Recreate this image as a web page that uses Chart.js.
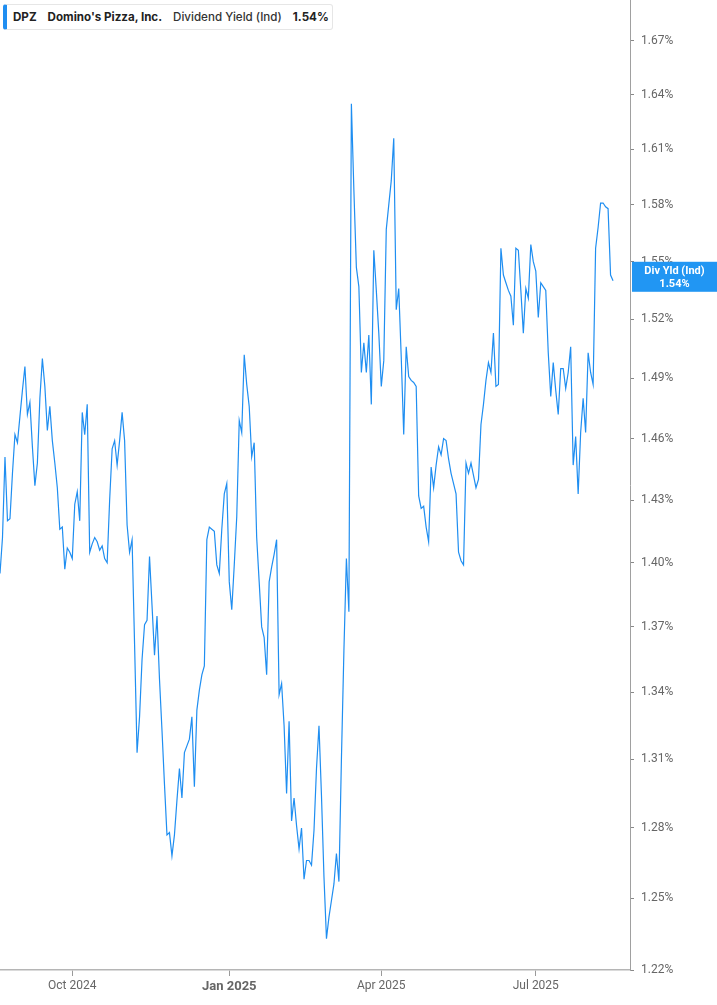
<!DOCTYPE html>
<html>
<head>
<meta charset="utf-8">
<script src="https://cdn.jsdelivr.net/npm/chart.js@4.4.1/dist/chart.umd.min.js"></script>
<style>
  html, body { margin: 0; padding: 0; background: #fff; }
  #wrap { position: relative; width: 717px; height: 1005px; }
  #legend {
    position: absolute; left: 3px; top: 4px; width: 330px; height: 26px;
    box-sizing: border-box; background: #fff; border: 1px solid #e6e6e6;
    border-left: 4px solid #1f8ef1; border-radius: 3px;
    font-family: Inter, 'Noto Sans', sans-serif; font-size: 11.6px; color: #222;
    display: flex; align-items: center; white-space: nowrap;
  }
  #legend span { display: inline-block; }
  #legend .tk { margin-left: 6px; font-weight: 700; }
  #legend .nm { margin-left: 11px; font-weight: 700; }
  #legend .sr { margin-left: 11px; font-weight: 500; color: #333; }
  #legend .vl { margin-left: 11px; font-weight: 700; }
</style>
</head>
<body>
<div id="wrap">
  <canvas id="yieldChart"></canvas>
  <div id="legend">
    <span class="tk">DPZ</span>
    <span class="nm">Domino's Pizza, Inc.</span>
    <span class="sr">Dividend Yield (Ind)</span>
    <span class="vl">1.54%</span>
  </div>
</div>
<script>
// daily dividend yield (%), one value per trading day, late Aug 2024 -> mid Aug 2025
const yieldValues = [
  1.395, 1.412, 1.451, 1.420, 1.421, 1.443, 1.462, 1.458, 1.471, 1.484,
  1.496, 1.472, 1.478, 1.456, 1.437, 1.448, 1.480, 1.500, 1.486, 1.464,
  1.476, 1.459, 1.448, 1.436, 1.416, 1.417, 1.397, 1.407, 1.405, 1.402,
  1.428, 1.434, 1.420, 1.473, 1.462, 1.477, 1.405, 1.409, 1.412, 1.410,
  1.406, 1.408, 1.402, 1.400, 1.430, 1.455, 1.459, 1.447, 1.459, 1.473,
  1.459, 1.418, 1.405, 1.411, 1.362, 1.313, 1.329, 1.355, 1.371, 1.373,
  1.403, 1.380, 1.357, 1.375, 1.346, 1.323, 1.299, 1.277, 1.278, 1.268,
  1.277, 1.292, 1.306, 1.293, 1.313, 1.316, 1.319, 1.329, 1.298, 1.332,
  1.341, 1.348, 1.352, 1.411, 1.417, 1.416, 1.415, 1.399, 1.395, 1.416,
  1.433, 1.438, 1.391, 1.378, 1.399, 1.422, 1.469, 1.463, 1.502, 1.487,
  1.476, 1.451, 1.458, 1.412, 1.391, 1.370, 1.365, 1.348, 1.391, 1.398,
  1.404, 1.411, 1.339, 1.344, 1.325, 1.295, 1.327, 1.283, 1.293, 1.281,
  1.271, 1.280, 1.258, 1.266, 1.266, 1.264, 1.279, 1.306, 1.325, 1.294,
  1.259, 1.233, 1.242, 1.249, 1.256, 1.269, 1.257, 1.310, 1.359, 1.402,
  1.377, 1.635, 1.588, 1.547, 1.537, 1.493, 1.508, 1.493, 1.512, 1.477,
  1.556, 1.535, 1.513, 1.486, 1.499, 1.567, 1.580, 1.593, 1.616, 1.525,
  1.536, 1.501, 1.462, 1.506, 1.491, 1.489, 1.488, 1.486, 1.432, 1.426,
  1.427, 1.417, 1.410, 1.446, 1.436, 1.447, 1.456, 1.452, 1.460, 1.459,
  1.450, 1.443, 1.438, 1.433, 1.405, 1.401, 1.399, 1.448, 1.443, 1.448,
  1.442, 1.436, 1.440, 1.467, 1.477, 1.489, 1.498, 1.493, 1.513, 1.486,
  1.487, 1.557, 1.543, 1.539, 1.535, 1.532, 1.517, 1.557, 1.556, 1.535,
  1.513, 1.536, 1.531, 1.559, 1.550, 1.545, 1.521, 1.539, 1.537, 1.535,
  1.503, 1.481, 1.498, 1.484, 1.472, 1.495, 1.495, 1.485, 1.493, 1.506,
  1.447, 1.461, 1.433, 1.463, 1.480, 1.463, 1.503, 1.493, 1.487, 1.557,
  1.568, 1.581, 1.581, 1.579, 1.578, 1.543, 1.540
];

// month ticks, placed at trading-day index
const xTickPositions = [29, 92, 153, 215];
const xTickLabels = ['Oct 2024', 'Jan 2025', 'Apr 2025', 'Jul 2025'];

const yTickValues = [1.22, 1.25, 1.28, 1.31, 1.34, 1.37, 1.40, 1.43, 1.46, 1.49, 1.52, 1.55, 1.58, 1.61, 1.64, 1.67];

const badgeTitle = 'Div Yld (Ind)';
const lineColor = '#1f8ef1';
const tickFont = "'Liberation Sans Narrow', 'Roboto', sans-serif";

// last value tag on the right axis
const lastValueBadge = {
  id: 'lastValueBadge',
  afterDraw(chart) {
    const ctx = chart.ctx;
    const y = chart.scales.y.getPixelForValue(yieldValues[yieldValues.length - 1]) - 4;
    const left = chart.chartArea.right + 2;
    const w = chart.width - left;
    ctx.save();
    ctx.fillStyle = '#2196f3';
    ctx.fillRect(left, y - 15, w, 30);
    ctx.fillStyle = '#fff';
    ctx.font = "bold 11px 'Roboto', 'Liberation Sans', sans-serif";
    ctx.textAlign = 'center';
    ctx.textBaseline = 'middle';
    ctx.fillText(badgeTitle, left + w / 2, y - 6);
    ctx.fillText(yieldValues[yieldValues.length - 1].toFixed(2) + '%', left + w / 2, y + 7);
    ctx.restore();
  }
};

const config = {
  type: 'line',
  data: {
    datasets: [{
      label: 'Dividend Yield (Ind)',
      data: yieldValues.map((v, i) => ({ x: i, y: v })),
      borderColor: lineColor,
      borderWidth: 1.2,
      pointRadius: 0,
      tension: 0,
      fill: false
    }]
  },
  options: {
    responsive: true,
    maintainAspectRatio: false,
    animation: false,
    layout: { padding: 0 },
    plugins: {
      legend: { display: false },
      tooltip: { enabled: false }
    },
    scales: {
      x: {
        type: 'linear',
        min: 0,
        max: 252.8,
        afterBuildTicks: (scale) => {
          scale.ticks = xTickPositions.map(v => ({ value: v }));
        },
        afterFit: (scale) => {
          scale.height = 35;
          scale.paddingLeft = 0;
          scale.paddingRight = 0;
        },
        grid: { drawOnChartArea: false, tickLength: 6, color: '#9a9a9a', tickColor: '#9a9a9a' },
        border: { color: '#b5b5b5', width: 1.5 },
        ticks: {
          autoSkip: false,
          maxRotation: 0,
          padding: 3,
          color: '#666',
          font: (ctx) => ctx.index === 1
            ? { family: tickFont, size: 13, weight: 'bold' }
            : { family: tickFont, size: 12 },
          callback: (val, idx) => xTickLabels[idx]
        }
      },
      y: {
        type: 'logarithmic',
        position: 'right',
        min: 1.22,
        max: 1.6933,
        afterBuildTicks: (scale) => {
          scale.ticks = yTickValues.map(v => ({ value: v }));
        },
        afterFit: (scale) => {
          scale.width = 87;
          scale.paddingTop = 0;
          scale.paddingBottom = 0;
        },
        grid: { drawOnChartArea: false, tickLength: 4, color: '#888', tickColor: '#888' },
        border: { color: '#a0a0a0', width: 1 },
        ticks: {
          autoSkip: false,
          padding: 7,
          color: '#666',
          font: { family: tickFont, size: 12 },
          callback: (val) => Number(val).toFixed(2) + '%'
        }
      }
    }
  },
  plugins: [lastValueBadge]
};

document.addEventListener('DOMContentLoaded', () => {
  const canvas = document.getElementById('yieldChart');
  if (canvas) {
    new Chart(canvas, config);
  } else {
    console.error('Canvas element with id "yieldChart" not found.');
  }
});
</script>
</body>
</html>
